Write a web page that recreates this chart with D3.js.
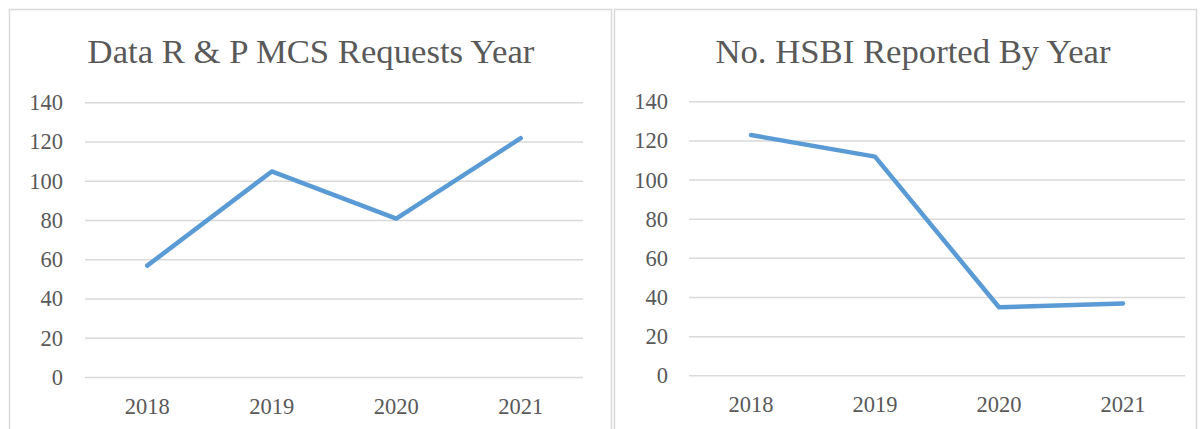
<!DOCTYPE html>
<html>
<head>
<meta charset="utf-8">
<script src="https://cdn.jsdelivr.net/npm/d3@7"></script>
<style>
	body { margin: 0; background: #fff; }
	svg { display: block; }
	text { font-family: "Times New Roman", "Liberation Serif", serif; fill: #595959; }
</style>
</head>
<body>
<div class="chart"></div>
<script>
var years = ["2018", "2019", "2020", "2021"];
var requests = [57, 105, 81, 122];
var hsbi = [123, 112, 35, 37];
var y_ticks = [0, 20, 40, 60, 80, 100, 120, 140];
var titles = ["Data R & P MCS Requests Year", "No. HSBI Reported By Year"];

var colors = {
	line: "#5b9bd5",
	grid: "#d9d9d9",
	border: "#d9d9d9",
	text: "#595959"
};

var width = 1203, height = 429;

var svg = d3.select(".chart").append("svg")
	.attr("width", width)
	.attr("height", height);

// panel boxes and plot areas
var panels = [
	{values: requests, title: titles[0], box: [9, 611], plot: [85, 583], y0: 377.5, y140: 102.8, label_x: 63, title_x: 311},
	{values: hsbi, title: titles[1], box: [614, 1196], plot: [689, 1185], y0: 375.8, y140: 101.8, label_x: 668, title_x: 913}
];

panels.forEach(function(p){
	drawPanel(p);
});

function drawPanel(p){
	var g = svg.append("g");

	g.append("rect")
		.attr("x", p.box[0] + 0.5)
		.attr("y", 9.5)
		.attr("width", p.box[1] - p.box[0])
		.attr("height", height)
		.style("fill", "#fff")
		.style("stroke", colors.border)
		.style("stroke-width", 1.5);

	var x = d3.scaleBand()
		.domain(years)
		.range(p.plot);

	var y = d3.scaleLinear()
		.domain([0, 140])
		.range([p.y0, p.y140]);

	g.append("text")
		.attr("x", p.title_x)
		.attr("y", 63)
		.attr("text-anchor", "middle")
		.style("font-size", "34.7px")
		.text(p.title);

	// gridlines
	g.selectAll(".grid")
		.data(y_ticks)
		.enter().append("line")
			.attr("class", "grid")
			.attr("x1", p.plot[0])
			.attr("x2", p.plot[1])
			.attr("y1", function(d){ return y(d); })
			.attr("y2", function(d){ return y(d); })
			.style("stroke", colors.grid)
			.style("stroke-width", 1.5);

	g.selectAll(".y-label")
		.data(y_ticks)
		.enter().append("text")
			.attr("class", "y-label")
			.attr("x", p.label_x)
			.attr("y", function(d){ return y(d); })
			.attr("dy", "0.33em")
			.attr("text-anchor", "end")
			.style("font-size", "22.5px")
			.text(function(d){ return d; });

	g.selectAll(".x-label")
		.data(years)
		.enter().append("text")
			.attr("class", "x-label")
			.attr("x", function(d){ return x(d) + x.bandwidth() / 2; })
			.attr("y", p.y0 + 36)
			.attr("text-anchor", "middle")
			.style("font-size", "22.5px")
			.text(function(d){ return d; });

	var line = d3.line()
		.x(function(d, i){ return x(years[i]) + x.bandwidth() / 2; })
		.y(function(d){ return y(d); });

	g.append("path")
		.datum(p.values)
		.attr("d", line)
		.style("fill", "none")
		.style("stroke", colors.line)
		.style("stroke-width", 4.5)
		.style("stroke-linecap", "round")
		.style("stroke-linejoin", "round");
}
</script>
</body>
</html>
